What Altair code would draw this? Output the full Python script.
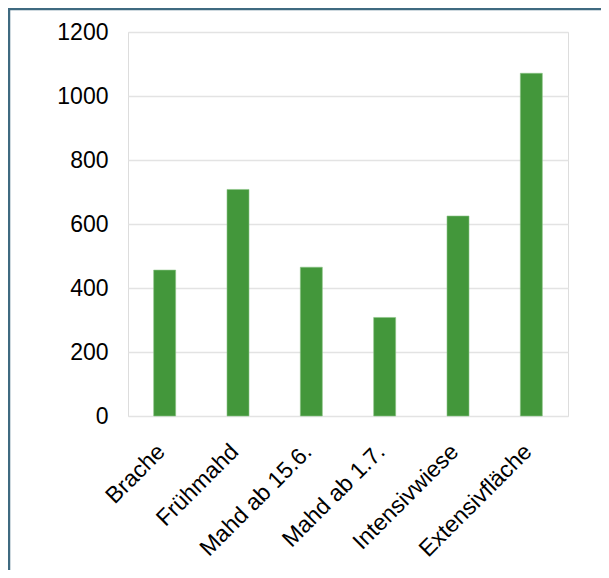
import altair as alt
import pandas as pd

categories = ["Brache", "Frühmahd", "Mahd ab 15.6.", "Mahd ab 1.7.", "Intensivwiese", "Extensivfläche"]
values = [456, 708, 465, 308, 625, 1071]
y_ticks = [0, 200, 400, 600, 800, 1000, 1200]

df = pd.DataFrame({"cat": categories, "val": values})

FONT = "Liberation Sans"

bars = alt.Chart(df).mark_bar(size=22, color="#43973b", stroke="#8cc487", strokeWidth=0.6).encode(
    x=alt.X("cat:N", sort=categories, title=None,
            scale=alt.Scale(paddingInner=0, paddingOuter=0),
            axis=alt.Axis(labelAngle=-45, labelFontSize=23, labelFont=FONT, labelColor="#000000",
                          ticks=False, tickSize=0, domain=False, grid=False, labelPadding=24,
                          labelOffset=-11, labelLimit=300)),
    y=alt.Y("val:Q", title=None,
            scale=alt.Scale(domain=[0, 1200], nice=False),
            axis=alt.Axis(values=y_ticks, format="d", labelFontSize=23, labelFont=FONT,
                          labelColor="#000000", ticks=False, tickSize=0, domain=False, grid=True,
                          gridColor="#e3e3e3", gridWidth=1.3, labelPadding=20)),
)

border_df = alt.Data(values=[{"k": 1}])
left_border = alt.Chart(border_df).mark_rule(color="#3f6a80", strokeWidth=2.5).encode(
    x=alt.value(-119), y=alt.value(-23), y2=alt.value(540)
)
top_border = alt.Chart(border_df).mark_rule(color="#3f6a80", strokeWidth=2.5).encode(
    y=alt.value(-23), x=alt.value(-120), x2=alt.value(475)
)

chart = alt.layer(bars, left_border, top_border).properties(
    width=440, height=384,
    autosize=alt.AutoSizeParams(type="none"),
    padding={"left": 120, "top": 24, "right": 33, "bottom": 154},
).configure_view(stroke=None).configure(background="white")

chart.save("out.html", embed_options={"renderer": "svg", "actions": False})
